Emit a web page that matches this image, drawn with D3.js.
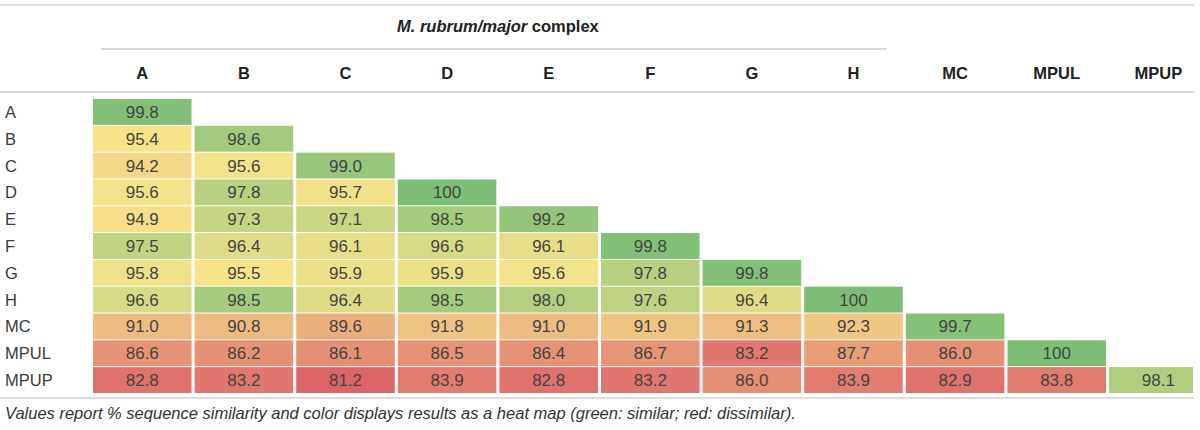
<!DOCTYPE html>
<html><head><meta charset="utf-8">
<script src="https://cdn.jsdelivr.net/npm/d3@7"></script>
<style>
body{margin:0;background:#fff;}
svg{display:block;font-family:"Liberation Sans",Arial,Helvetica,sans-serif;}
</style></head>
<body><svg id="c" width="1200" height="430"></svg>
<script>
const columns = ["A","B","C","D","E","F","G","H","MC","MPUL","MPUP"];
const rowLabels = ["A","B","C","D","E","F","G","H","MC","MPUL","MPUP"];
const complexColumns = ["A","B","C","D","E","F","G","H"];
const titleItalic = "M. rubrum/major";
const titleRest = " complex";
const caption = "Values report % sequence similarity and color displays results as a heat map (green: similar; red: dissimilar).";
// lower-triangular matrix, row i has i+1 values
const values = [
  [99.8],
  [95.4, 98.6],
  [94.2, 95.6, 99.0],
  [95.6, 97.8, 95.7, 100],
  [94.9, 97.3, 97.1, 98.5, 99.2],
  [97.5, 96.4, 96.1, 96.6, 96.1, 99.8],
  [95.8, 95.5, 95.9, 95.9, 95.6, 97.8, 99.8],
  [96.6, 98.5, 96.4, 98.5, 98.0, 97.6, 96.4, 100],
  [91.0, 90.8, 89.6, 91.8, 91.0, 91.9, 91.3, 92.3, 99.7],
  [86.6, 86.2, 86.1, 86.5, 86.4, 86.7, 83.2, 87.7, 86.0, 100],
  [82.8, 83.2, 81.2, 83.9, 82.8, 83.2, 86.0, 83.9, 82.9, 83.8, 98.1]
];
const labelsText = values.map(r => r.map(v => v === 100 ? "100" : v.toFixed(1)));

const svg = d3.select("#c");
const x = d3.scaleBand().domain(columns).range([93, 93 + 101.6 * 11 - 3]).paddingInner(0.03).paddingOuter(0);
const y = d3.scaleBand().domain(rowLabels).range([99, 393]).paddingInner(0.035).paddingOuter(0);
const color = d3.scaleLinear().domain([81.2, 95.5, 100]).range(["#dc6468", "#f6e48a", "#7dbe76"]).clamp(true);

svg.append("defs").append("clipPath").attr("id","clip")
  .append("rect").attr("x",0).attr("y",0).attr("width",1193).attr("height",430);

// rules
const lineColor = "#dcdcdc";
[5, 92, 398].forEach(yy => svg.append("line").attr("x1",0).attr("x2",1194).attr("y1",yy).attr("y2",yy)
  .attr("stroke",lineColor).attr("stroke-width",2));
const cx0 = x(complexColumns[0]) + 8, cx1 = x(complexColumns[complexColumns.length-1]) + x.bandwidth() - 16;
svg.append("line").attr("x1",cx0).attr("x2",cx1).attr("y1",49).attr("y2",49).attr("stroke","#c8c8c8").attr("stroke-width",1.5);

// title
const tmid = (x(complexColumns[0]) + x(complexColumns[complexColumns.length-1]) + x.bandwidth())/2;
const t = svg.append("text").attr("x", tmid).attr("y", 32).attr("text-anchor","middle")
  .attr("font-size",16.5).attr("font-weight","bold").attr("fill","#222");
t.append("tspan").attr("font-style","italic").text(titleItalic);
t.append("tspan").text(titleRest);

// column headers
svg.append("g").selectAll("text").data(columns).join("text")
  .attr("x", d => x(d) + x.bandwidth()/2).attr("y", 79).attr("text-anchor","middle")
  .attr("font-size",16.5).attr("font-weight","bold").attr("fill","#222").text(d => d);

// row labels
svg.append("g").selectAll("text").data(rowLabels).join("text")
  .attr("x", 5).attr("y", d => y(d) + y.bandwidth()/2 + 6)
  .attr("font-size",16.5).attr("fill","#3a3a3a").text(d => d);

// cells
const cells = [];
values.forEach((row, i) => row.forEach((v, j) => cells.push({r: rowLabels[i], c: columns[j], v, t: labelsText[i][j]})));
const g = svg.append("g").attr("clip-path","url(#clip)");
g.selectAll("rect").data(cells).join("rect")
  .attr("x", d => x(d.c)).attr("y", d => y(d.r))
  .attr("width", x.bandwidth()).attr("height", y.bandwidth())
  .attr("fill", d => color(d.v));
g.selectAll("text").data(cells).join("text")
  .attr("x", d => x(d.c) + x.bandwidth()/2).attr("y", d => y(d.r) + y.bandwidth()/2 + 6)
  .attr("text-anchor","middle").attr("font-size",17).attr("fill","#444").text(d => d.t);

// caption
svg.append("text").attr("x", 5).attr("y", 419).attr("font-size",16.5).attr("font-style","italic")
  .attr("fill","#333").text(caption);
</script></body></html>
